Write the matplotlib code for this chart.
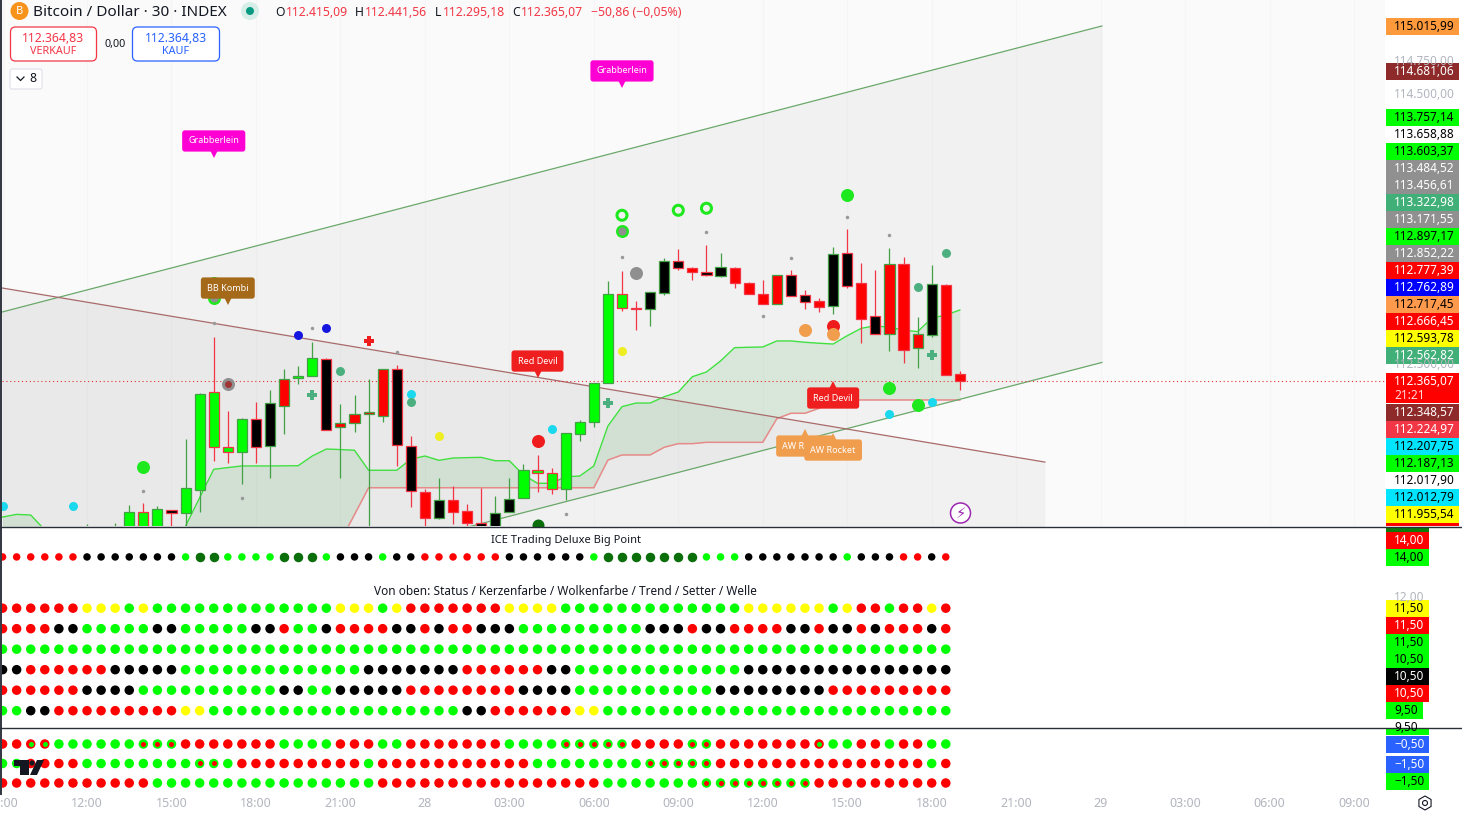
"""
Bitcoin / Dollar 30 min chart with indicator panes, rebuilt with matplotlib.
"""

import matplotlib.pyplot as plt
import matplotlib.transforms as mtransforms
from matplotlib.patches import Circle, FancyBboxPatch, Polygon, Rectangle

plt.rcParams["font.family"] = ["Noto Sans", "DejaVu Sans"]

# Candles, x is the bar number counted from 12:00 on the 27th.
bar_x = list(range(0, 63))
open_ = [111145, 111108, 111108, 111219, 111388, 111242, 111406, 111386, 111557, 112281,
         111872, 111839, 112080, 111879, 112177, 112385, 112400, 112527, 112021, 112051,
         112118, 112103, 112452, 111880, 111537, 111348, 111478, 111396, 111311, 111219,
         111388, 111493, 111701, 111679, 111560, 111968, 112058, 112348, 113010, 112908,
         112899, 113022, 113255, 113203, 113174, 113148, 113203, 113091, 113010, 112940,
         113151, 113003, 112958, 112925, 113315, 113091, 112846, 112717, 113233, 112608,
         112710, 113079, 112415.09]
close = [111219, 111182, 111219, 111388, 111219, 111411, 111386, 111567, 112268, 111872,
         111835, 112080, 111872, 112199, 112378, 112400, 112534, 111999, 112051, 112118,
         112132, 112452, 111887, 111545, 111348, 111478, 111393, 111311, 111219, 111381,
         111490, 111701, 111679, 111560, 111976, 112058, 112348, 113010, 112906, 112903,
         113025, 113255, 113203, 113174, 113156, 113211, 113096, 113014, 112940, 113151,
         113000, 112955, 112918, 113307, 113074, 112828, 112717, 113233, 112598, 112713,
         113084, 112412, 112365.07]
high = [111301, 111242, 111311, 111443, 111458, 111435, 111406, 111934, 112278, 112693,
        112142, 112090, 112209, 112296, 112455, 112477, 112653, 112536, 112192, 112261,
        112380, 112452, 112484, 111956, 111560, 111641, 111584, 111450, 111567, 111510,
        111641, 111748, 111813, 111716, 111976, 112075, 112348, 113109, 113184, 112960,
        113025, 113277, 113347, 113213, 113377, 113317, 113211, 113101, 113117, 113151,
        113191, 113042, 112983, 113361, 113494, 113243, 113191, 113354, 113287, 112841,
        113228, 113084, 112441.56]
low = [111071, 111034, 111034, 111145, 111145, 111182, 111182, 111257, 111393, 111772,
       111757, 111601, 111757, 111646, 111973, 112345, 112400, 111999, 111646, 111987,
       111219, 112060, 111735, 111428, 111257, 111339, 111304, 111279, 111219, 111182,
       111388, 111493, 111542, 111525, 111480, 111921, 112025, 112348, 112888, 112747,
       112777, 113005, 113191, 113117, 113148, 113139, 113057, 113014, 112940, 112940,
       113000, 112901, 112879, 112863, 113059, 112648, 112717, 112588, 112499, 112462,
       112695, 112412, 112295.18]
body_fill = ("kkk" "ggg" "k" "ggggg"   # bars 0, 1, 2 lie under the pane
             "kk" "r" "gg" "k" "rrrr" "kk" "r" "k" "rr" "kkk"
             "ggggggggg" "kkk" "r" "kk" "rrrr" "kk" "r" "kk" "r" "k" "rrr" "k" "rr")
border_up = [o <= c for o, c in zip(open_, close)]

# Cloud lines, one value per bar from -6 to 62.
cloud_x = list(range(-6, 63))
span_a = [111353, 111373, 111368, 111257, 111145, 111145, 111145, 111145, 111145, 111145,
          111145, 111145, 111078, 111286, 111497, 111708, 111721, 111733, 111733, 111733,
          111734, 111735, 111807, 111859, 111855, 111850, 111701, 111701, 111701, 111783,
          111807, 111775, 111792, 111795, 111797, 111772, 111772, 111666, 111604, 111604,
          111653, 111658, 111733, 112030, 112174, 112201, 112201, 112248, 112283, 112397,
          112432, 112514, 112613, 112616, 112618, 112663, 112663, 112653, 112646, 112640,
          112702, 112757, 112776, 112764, 112744, 112732, 112832, 112856, 112893]
span_b = [111175] * 25 + [111371] + [111571] * 17 + [
    111777, 111815, 111815, 111815, 111872, 111899, 111899, 111909, 111909, 111909,
    111909, 111909, 112085, 112125, 112125, 112162, 112220] + [112224] * 9

# Drawn trend lines.
channel_x = [-6.04, 72.09]
channel_top = [112878, 115006]
channel_bottom = [110379, 112503]
red_line_x = [-6.04, 68.04]
red_line_y = [113057, 111762]
last_price = 112365.07

# Indicator markers on the price pane.
small_grey_x = [4, 9, 11, 16, 22, 34, 38, 44, 48, 50, 54, 57]
small_grey_y = [111546, 112794, 111492, 112757, 112583, 111373, 113285, 113471, 112846, 113278, 113583, 113449]
cyan_x = [-6, -1, 23, 33, 57, 60]
cyan_y = [111437, 111437, 112266, 112006, 112117, 112207]
green_x = [4, 9, 54, 57, 59]
green_y = [111723, 113094, 113746, 112315, 112184]
blue_x = [15, 17]
blue_y = [112705, 112757]
teal_x = [18, 23, 59, 61]
teal_y = [112437, 112207, 113062, 113315]
yellow_x = [25, 38]
yellow_y = [111954, 112586]
red_x = [32, 53]
red_y = [111916, 112774]
orange_x = [51, 53]
orange_y = [112742, 112712]
ring_x = [38, 42, 44]
ring_y = [113598, 113635, 113650]
grey_in_green_x = [9, 38]
grey_in_green_y = [112980, 113479]
plus_green_x = [16, 37, 60]
plus_green_y = [112259, 112199, 112556]
plus_red_x = [20]
plus_red_y = [112660]

# Signal flags.
flag_x = [9, 38, 10, 32, 53, 51, 53]
flag_y = [114039, 114560, 112945, 112402, 112350, 111993, 111963]
flag_text = ["Grabberlein", "Grabberlein", "BB Kombi", "Red Devil", "Red Devil", "AW Rocket", "AW Rocket"]
flag_color = ["#ff00d4", "#ff00d4", "#a5691a", "#f01f1f", "#f01f1f", "#f09d4e", "#f09d4e"]
flag_down = [True, True, True, True, False, False, False]

# Dot rows, r red, g green, k black, y yellow, D dark green, a red with green core, b green with red core.
dot_x = list(range(-6, 62))
big_point = "rrrrrrkkkkkkkgDDggggDDDgkkkgkkrrrrrrkkkkkkgDDDDDDDgggkkkkkkkgkkkrrkr"
status = "rrrrrryyygy" + "g" * 13 + "yyygy" + "r" * 7 + "yyyy" + "g" * 13 + "y" * 6 + "gyrrgrryr"
candle_color = "rrrrkkgggggkkgggggkkrggkrrrrkkrkrrkkk" + "g" * 9 + "kkkrkkrrrrkkrkkrkrrrkr"
cloud_color = "g" * 68
trend = "kkrrrrrrkkkkk" + "g" * 13 + "k" * 7 + "r" * 6 + "kk" + "g" * 12 + "k" * 15
setter = "r" * 6 + "k" * 4 + "g" * 10 + "kkgg" + "k" * 5 + "r" * 8 + "k" * 4 + "g" * 10 + "k" * 8 + "r" * 9
wave = "ggkk" + "r" * 9 + "yy" + "g" * 18 + "kk" + "r" * 6 + "yy" + "g" * 25
momentum_1 = "rraa" + "g" * 6 + "bbb" + "r" * 7 + "ggggrrrgg" + "r" * 7 + "gggg" + "b" * 5 + "rrrrbb" + "r" * 7 + "aggrrgrrgg"
momentum_2 = "ggrrrr" + "g" * 8 + "bbg" + "r" * 9 + "g" + "r" * 11 + "g" * 8 + "b" * 5 + "r" * 15 + "gr"
momentum_3 = "r" * 11 + "g" * 16 + "r" * 16 + "g" * 7 + "b" * 8 + "r" * 10

# Time axis.
time_ticks = [-6, 0, 6, 12, 18, 24, 30, 36, 42, 48, 54, 60, 66, 72, 78, 84, 90]
time_labels = ["09:00", "12:00", "15:00", "18:00", "21:00", "28", "03:00", "06:00", "09:00",
               "12:00", "15:00", "18:00", "21:00", "29", "03:00", "06:00", "09:00"]

# Labels of the price scales.
axis_text = ["115.015,99", "114.681,06", "113.757,14", "113.658,88", "113.603,37", "113.484,52",
             "113.456,61", "113.322,98", "113.171,55", "112.897,17", "112.852,22", "112.777,39",
             "112.762,89", "112.717,45", "112.666,45", "112.593,78", "112.562,82", "112.348,57",
             "112.224,97", "112.207,75", "112.187,13", "112.017,90", "112.012,79", "111.955,54"]
axis_y = [26, 71, 117, 134, 151, 168, 185, 202, 219, 236, 253, 270, 287, 304, 321, 338, 355,
          412, 429, 446, 463, 480, 497, 514]
axis_bg = ["#ff9a3c", "#8e2a2a", "#00ff00", "#ffffff", "#00ff00", "#909090", "#909090", "#41af78",
           "#909090", "#00ff00", "#909090", "#ff0000", "#0000ff", "#ff9a4d", "#ff0000", "#ffff00",
           "#41af78", "#8e2a2a", "#f23645", "#00e5ff", "#00ff00", "#ffffff", "#00e5ff", "#ffff00"]
axis_fg = ["black", "white", "black", "black", "black", "white", "white", "white", "white", "black",
           "white", "white", "white", "black", "white", "black", "white", "white", "white", "black",
           "black", "black", "black", "black"]
pane_text = ["14,00", "14,00", "11,50", "11,50", "11,50", "10,50", "10,50", "10,50", "9,50"]
pane_y = [540, 557, 608, 625, 642, 659, 676, 693, 710]
pane_bg = ["#ff0000", "#00ff00", "#ffff00", "#ff0000", "#00ff00", "#00ff00", "#000000", "#ff0000", "#00ff00"]
pane_fg = ["white", "black", "black", "white", "black", "black", "white", "white", "black"]
lower_text = ["\u22120,50", "\u22121,50", "\u22121,50"]
lower_y = [744, 764, 781]
lower_bg = ["#2962ff", "#2962ff", "#00ff00"]
lower_fg = ["white", "white", "black"]

DOT_COLORS = {"r": "#ff0000", "g": "#00ff00", "k": "#000000", "y": "#ffff00", "D": "#0a6e0a"}
BODY_COLORS = {"r": "#ff0000", "g": "#00ff00", "k": "#000000"}
GREEN_EDGE = "#43a047"
RED_EDGE = "#f23645"
W, H = 1462, 814
LEFT, RIGHT = 2, 1385
SCALE_FONT = 8.5
TEXT_DY = 0.8


def pane(top, bottom, ylim, facecolor="white"):
    ax = fig.add_axes([LEFT / W, 1 - bottom / H, (RIGHT - LEFT) / W, (bottom - top) / H], facecolor=facecolor)
    ax.set_xlim(-6.04, 92.2)
    ax.set_ylim(*ylim)
    ax.set_yticks([])
    ax.set_xticks([])
    for spine in ax.spines.values():
        spine.set_visible(False)
    return ax


def size(px):
    # scatter size for a marker that is px pixels wide
    return (px * 0.72) ** 2


def dots(ax, codes, y, px=9.5):
    ax.scatter(dot_x, [y] * len(dot_x), s=size(px), c=[DOT_COLORS[c] for c in codes], linewidths=0, zorder=3)


def momentum_row(ax, codes, y):
    outer = ["#ff0000" if c in "ra" else "#00ff00" for c in codes]
    ax.scatter(dot_x, [y] * len(dot_x), s=size(9.5), c=outer, linewidths=0, zorder=3)
    for x, c in zip(dot_x, codes):
        if c == "a":
            ax.scatter(x, y, s=size(5), c="#00ff00", linewidths=0, zorder=4)
        elif c == "b":
            ax.scatter(x, y, s=size(5), c="#ff0000", linewidths=0, zorder=4)


def scale_label(y, text, color):
    ui.text(1394, y + TEXT_DY, text, color=color, fontsize=SCALE_FONT, va="center")


fig = plt.figure(figsize=(W / 100, H / 100), dpi=100, facecolor="white")

# Price pane
ax = pane(0, 526, (111286.4, 115199.3), facecolor="#fafafa")
for tick in time_ticks:
    ax.axvline(tick, color="#f5f5f5", lw=0.8, zorder=0)

ax.fill_between(channel_x, channel_bottom, channel_top, color="#808080", alpha=0.065, linewidth=0, zorder=1)
ax.fill_between(red_line_x, 110000, red_line_y, color="#808080", alpha=0.065, linewidth=0, zorder=1)
ax.fill_between(cloud_x, span_a, span_b, color="#4caf50", alpha=0.15, linewidth=0, zorder=1.2)
ax.plot(cloud_x, span_a, color="#3fe03f", lw=1.0, zorder=1.5)
ax.plot(cloud_x, span_b, color="#e88a8a", lw=1.1, zorder=1.5)
ax.plot(channel_x, channel_top, color="#6aa86a", lw=0.9, zorder=1.6)
ax.plot(channel_x, channel_bottom, color="#6aa86a", lw=0.9, zorder=1.6)
ax.plot(red_line_x, red_line_y, color="#a86a6a", lw=0.9, zorder=1.6)
ax.axhline(last_price, color="#e03030", lw=0.8, ls=(0, (1, 2.5)), zorder=1.7)

edges = [GREEN_EDGE if up else RED_EDGE for up in border_up]
ax.vlines(bar_x, low, high, colors=edges, lw=0.9, zorder=2)
ax.bar(bar_x, [abs(c - o) for o, c in zip(open_, close)], bottom=[min(o, c) for o, c in zip(open_, close)],
       width=0.72, color=[BODY_COLORS[f] for f in body_fill], edgecolor=edges, linewidth=0.9, zorder=2.2)

ax.scatter(small_grey_x, small_grey_y, s=size(3.5), c="#999999", linewidths=0, zorder=3)
ax.scatter(cyan_x, cyan_y, s=size(9), c="#1ad9ee", linewidths=0, zorder=3)
ax.scatter(green_x, green_y, s=size(13), c="#1ee81e", linewidths=0, zorder=3)
ax.scatter(blue_x, blue_y, s=size(9), c="#1515e0", linewidths=0, zorder=3)
ax.scatter(teal_x, teal_y, s=size(9), c="#4caf80", linewidths=0, zorder=3)
ax.scatter(yellow_x, yellow_y, s=size(9), c="#eeee22", linewidths=0, zorder=3)
ax.scatter(red_x, red_y, s=size(13), c="#ee1c1c", linewidths=0, zorder=3)
ax.scatter(orange_x, orange_y, s=size(13), c="#f09d4e", linewidths=0, zorder=3.1)
ax.scatter(ring_x, ring_y, s=size(10), facecolors="none", edgecolors="#1ee81e", linewidths=2.2, zorder=3)
ax.scatter(39, 113166, s=size(13), c="#8f8f8f", linewidths=0, zorder=3)
ax.scatter(32, 111294, s=size(12), c="#0a6e0a", linewidths=0, zorder=3)
ax.scatter(grey_in_green_x, grey_in_green_y, s=size(13), c="#1ee81e", linewidths=0, zorder=3)
ax.scatter(grey_in_green_x, grey_in_green_y, s=size(8), c="#8f8f8f", linewidths=0, zorder=3.1)
ax.scatter(10, 112345, s=size(13), c="#8f8f8f", linewidths=0, zorder=3)
ax.scatter(10, 112345, s=size(7), c="#a03535", linewidths=0, zorder=3.1)
ax.scatter(plus_green_x, plus_green_y, s=size(10), c="#4caf80", marker="P", linewidths=0, zorder=3)
ax.scatter(plus_red_x, plus_red_y, s=size(10), c="#ee1c1c", marker="P", linewidths=0, zorder=3)

for i, (x, y, text, color, down) in enumerate(zip(flag_x, flag_y, flag_text, flag_color, flag_down)):
    sign = 1 if down else -1
    tip = mtransforms.offset_copy(ax.transData, fig=fig, y=sign * 3, units="dots")
    ax.plot([x], [y], marker="v" if down else "^", ms=7.5, color=color, mew=0, transform=tip, zorder=5 + i, clip_on=False)
    ax.annotate(text, (x, y), xytext=(0, sign * 10.8), textcoords="offset points", ha="center", va="center",
                fontsize=6.5, color="white", fontweight="semibold", zorder=5 + i,
                bbox=dict(boxstyle="round,pad=0.68,rounding_size=0.3", fc=color, ec=color, lw=0))

# Indicator panes
ax2 = pane(527, 727.5, (5.68, 15.46))
dots(ax2, big_point, 14, px=7.5)
big = [x for x, c in zip(dot_x, big_point) if c == "D"]
ax2.scatter(big, [14] * len(big), s=size(9.5), c="#0a6e0a", linewidths=0, zorder=3.1)
for codes, row in zip([status, candle_color, cloud_color, trend, setter, wave], [11.5, 10.5, 9.5, 8.5, 7.5, 6.5]):
    dots(ax2, codes, row)
ax2.text(34.0, 14.82, "ICE Trading Deluxe Big Point", ha="center", va="center", fontsize=8, color="#131722")
ax2.text(34.0, 12.3, "Von oben: Status / Kerzenfarbe / Wolkenfarbe / Trend / Setter / Welle",
         ha="center", va="center", fontsize=8.5, color="#131722")

ax3 = pane(728, 795, (-3.115, 0.32))
for codes, row in zip([momentum_1, momentum_2, momentum_3], [-0.5, -1.5, -2.5]):
    momentum_row(ax3, codes, row)
ax3.text(34.0, 0.4, "Momentum Status Indikator", ha="center", va="center", fontsize=8, color="#131722", clip_on=True)
ax3.set_xticks(time_ticks, time_labels)
ax3.tick_params(axis="x", length=0, pad=1.5, labelsize=9, labelcolor="#b2b5be")
for label in ax3.get_xticklabels():
    if label.get_text() in ("28", "29"):
        label.set_fontweight("bold")

# Overlay in pixels for the chart furniture
ui = fig.add_axes([0, 0, 1, 1], facecolor="none", zorder=10)
ui.set_xlim(0, W)
ui.set_ylim(H, 0)
ui.axis("off")

ui.add_patch(Rectangle((0, 0), 2, 795, fc="#363a45", lw=0))
ui.plot([0, W], [526.5, 526.5], color="#2a2e39", lw=1)
ui.plot([0, W], [727.5, 727.5], color="#2a2e39", lw=1)

# Header
ui.add_patch(Circle((19.5, 11), 9, fc="#f7931a", lw=0))
ui.text(19.5, 11, "B", color="white", fontsize=8, fontweight="bold", ha="center", va="center")
ui.text(33, 12.5, "Bitcoin / Dollar \u00b7 30 \u00b7 INDEX", fontsize=11, color="#131722", va="center")
ui.add_patch(Circle((250, 11), 9, fc="#d7eee8", lw=0))
ui.add_patch(Circle((250, 11), 4, fc="#089981", lw=0))
for x, text, color in [(275, "O", "#131722"), (286, "112.415,09", "#f23645"), (355, "H", "#131722"),
                       (365, "112.441,56", "#f23645"), (435, "L", "#131722"), (443, "112.295,18", "#f23645"),
                       (512, "C", "#131722"), (521, "112.365,07", "#f23645"), (591, "\u221250,86 (\u22120,05%)", "#f23645")]:
    ui.text(x, 12.5, text, fontsize=8.8, color=color, va="center")

for x0, x1, price_color, word in [(10.5, 96.5, "#f23645", "VERKAUF"), (132.5, 219.5, "#2962ff", "KAUF")]:
    ui.add_patch(FancyBboxPatch((x0 + 4, 31), x1 - x0 - 8, 26, boxstyle="round,pad=4,rounding_size=5", fc="white", ec=price_color, lw=0.9))
    ui.text((x0 + x1) / 2, 38, "112.364,83", color=price_color, fontsize=8.8, ha="center", va="center")
    ui.text((x0 + x1) / 2, 52, word, color=price_color, fontsize=7.8, ha="center", va="center")
ui.text(115, 44, "0,00", color="#131722", fontsize=7.8, ha="center", va="center")
ui.add_patch(FancyBboxPatch((13, 72), 26, 14, boxstyle="round,pad=3,rounding_size=2", fc="white", ec="#e0e3eb", lw=0.9))
ui.plot([17, 20.5, 24], [77, 80.5, 77], color="#131722", lw=0.9)
ui.text(33, 79, "8", color="#131722", fontsize=8.8, ha="center", va="center")

# Purple bolt
ui.add_patch(Circle((960.5, 513), 10, fc="white", ec="#9c27b0", lw=1.1))
ui.text(960.5, 513.5, "\u26a1", color="#9c27b0", fontsize=10.5, ha="center", va="center", family="DejaVu Sans")

# Logo
ui.add_patch(Polygon([(14, 760), (29, 760), (29, 775), (20, 775), (20, 766), (14, 766)], fc="#131722", lw=0))
ui.add_patch(Circle((32, 763), 2.6, fc="#131722", lw=0))
ui.add_patch(Polygon([(37, 760), (44, 760), (37, 775), (30, 775)], fc="#131722", lw=0))

# Price scale, faint round values first so the boxes cover them
for y, text in [(60.5, "114.750,00"), (94, "114.500,00"), (364, "112.500,00")]:
    scale_label(y, text, "#b2b5be")
scale_label(597, "12,00", "#b2b5be")

for y, text, bg, fg in zip(axis_y, axis_text, axis_bg, axis_fg):
    ui.add_patch(Rectangle((1386, y - 8.5), 73, 17, fc=bg, lw=0))
    scale_label(y, text, fg)
ui.add_patch(Rectangle((1386, 373), 73, 30, fc="#ff0000", lw=0))
scale_label(381, "112.365,07", "white")
scale_label(395, "21:21", "#ffd9d9")
ui.add_patch(Rectangle((1386, 523), 73, 3, fc="#ff0000", lw=0))
ui.add_patch(Rectangle((1386, 527), 43, 5, fc="#0a7a0a", lw=0))

for y, text, bg, fg in zip(pane_y, pane_text, pane_bg, pane_fg):
    width = 37 if text == "9,50" else 43
    ui.add_patch(Rectangle((1386, y - 8.5), width, 17, fc=bg, lw=0))
    scale_label(y, text, fg)
ui.add_patch(Rectangle((1386, 728), 43, 7, fc="#00ff00", lw=0))
scale_label(727, "9,50", "black")
for y, text, bg, fg in zip(lower_y, lower_text, lower_bg, lower_fg):
    ui.add_patch(Rectangle((1386, y - 8.5), 43, 17, fc=bg, lw=0))
    scale_label(y, text, fg)

# Settings icon
ui.scatter([1425], [803], s=size(14), marker="h", facecolors="none", edgecolors="#131722", linewidths=0.8)
ui.scatter([1425], [803], s=size(5), marker="o", facecolors="none", edgecolors="#131722", linewidths=0.8)

fig.savefig("out.png", dpi=100)
